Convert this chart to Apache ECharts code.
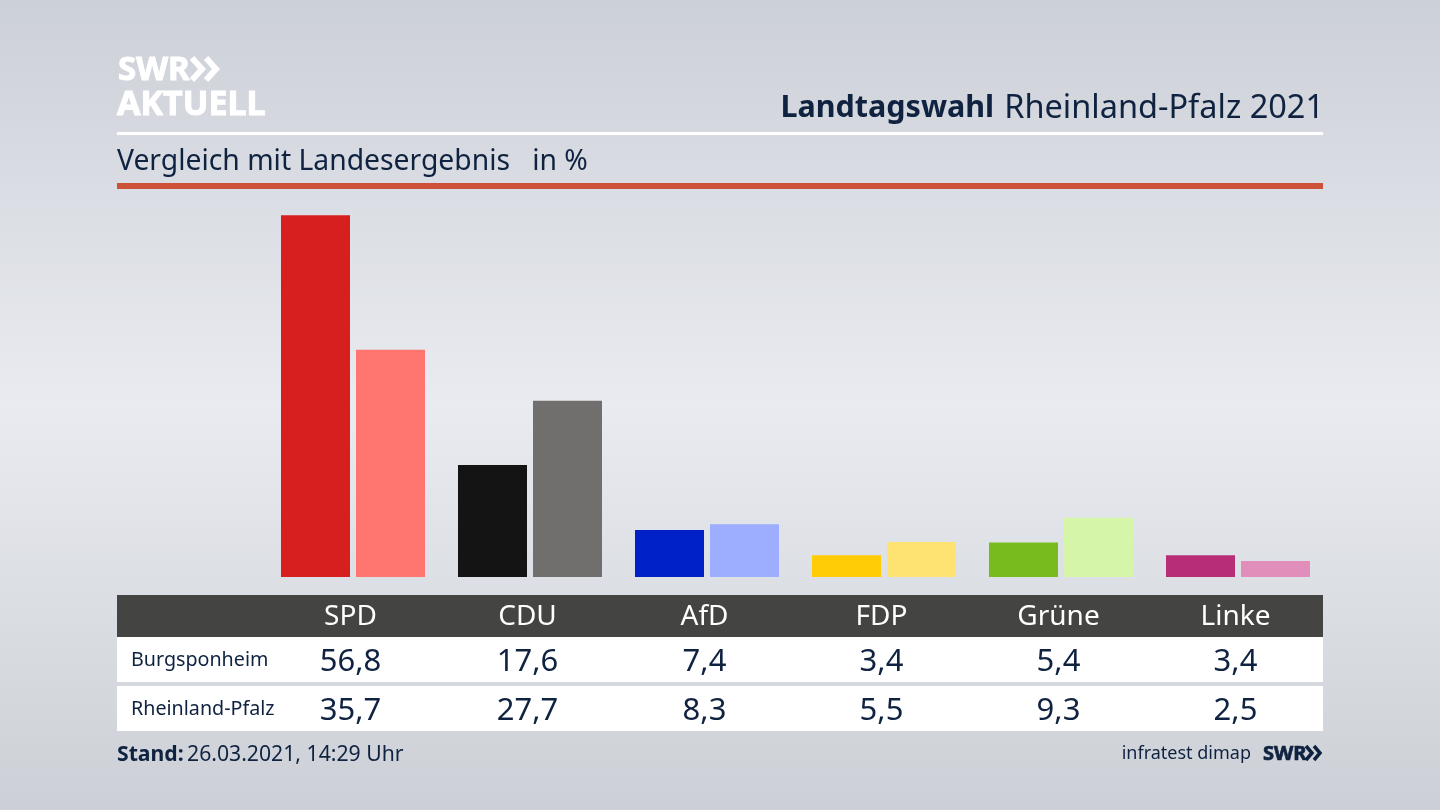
<!DOCTYPE html>
<html>
<head>
<meta charset="utf-8">
<title>Landtagswahl Rheinland-Pfalz 2021</title>
<script src="https://cdn.jsdelivr.net/npm/echarts@6/dist/echarts.min.js"></script>
<style>
html, body { margin: 0; padding: 0; }
#chartmain { width: 1440px; height: 810px; }
</style>
</head>
<body>
<div id="chartmain"></div>
<script>
var categories = ['SPD', 'CDU', 'AfD', 'FDP', 'Grüne', 'Linke'];
var localName = 'Burgsponheim';
var stateName = 'Rheinland-Pfalz';
var localValues = [56.8, 17.6, 7.4, 3.4, 5.4, 3.4];
var stateValues = [35.7, 27.7, 8.3, 5.5, 9.3, 2.5];
var localColors = ['#d81f1f', '#141414', '#0021c8', '#ffcc05', '#78bb1d', '#b82e76'];
var stateColors = ['#ff7670', '#706f6d', '#9dadff', '#ffe372', '#d5f5a8', '#e18fba'];

var FONT = '"Noto Sans", sans-serif';
var NAVY = '#0f2240';
//表格文字比柱组中心偏左
var LABEL_SHIFT = 2.5;

function fmt(v) {
    return v.toFixed(1).replace('.', ',');
}

var myChart = echarts.init(document.getElementById('chartmain'));

myChart.setOption({
    animation: false,
    backgroundColor: {
        type: 'linear', x: 0, y: 0, x2: 0, y2: 1,
        colorStops: [
            { offset: 0, color: '#ccd0d7' },
            { offset: 0.5, color: '#e9ebf0' },
            { offset: 1, color: '#ccd0d6' }
        ]
    },
    //两段字重不同的标题
    title: [{
        right: 111, top: 87,
        text: '{b|Landtagswahl}  {r|Rheinland-Pfalz 2021}',
        textStyle: {
            rich: {
                b: { fontFamily: FONT, fontSize: 30.5, fontWeight: 'bold', color: NAVY },
                r: { fontFamily: FONT, fontSize: 32.5, fontWeight: 'normal', color: NAVY }
            }
        }
    }, {
        left: 112, top: 143,
        text: 'Vergleich mit Landesergebnis   in %',
        textStyle: { fontFamily: FONT, fontSize: 28.3, fontWeight: 'normal', color: NAVY }
    }],
    grid: { left: 264.5, top: 195, width: 1062, height: 382 },
    xAxis: {
        type: 'category',
        data: categories,
        axisLine: { show: false },
        axisTick: { show: false },
        axisLabel: {
            margin: 40, verticalAlign: 'middle',
            padding: [0, LABEL_SHIFT * 2, 0, 0],
            fontFamily: FONT, fontSize: 28, color: '#ffffff'
        }
    },
    yAxis: { type: 'value', min: 0, max: 60, show: false },
    series: [{
        name: localName,
        type: 'bar',
        barWidth: 69,
        barGap: '8.7%',
        data: localValues,
        itemStyle: { color: function (p) { return localColors[p.dataIndex]; } }
    }, {
        name: stateName,
        type: 'bar',
        barWidth: 69,
        data: stateValues,
        itemStyle: { color: function (p) { return stateColors[p.dataIndex]; } }
    }]
});

//表格和页眉页脚
var elements = [
    { type: 'rect', z: -1, shape: { x: 117, y: 132, width: 1206, height: 3 }, style: { fill: '#ffffff' } },
    { type: 'rect', z: -1, shape: { x: 117, y: 183, width: 1206, height: 6 }, style: { fill: '#cd5138' } },
    { type: 'rect', z: -1, shape: { x: 117, y: 595, width: 1206, height: 42 }, style: { fill: '#444442' } },
    { type: 'rect', z: -1, shape: { x: 117, y: 637, width: 1206, height: 45 }, style: { fill: '#ffffff' } },
    { type: 'rect', z: -1, shape: { x: 117, y: 686, width: 1206, height: 45 }, style: { fill: '#ffffff' } },
    { type: 'text', x: 118, y: 71, style: { text: 'SWR', fontFamily: FONT, fontSize: 33, fontWeight: 'bold', fill: '#ffffff', stroke: '#ffffff', lineWidth: 1, verticalAlign: 'middle' } },
    { type: 'text', x: 117, y: 105, style: { text: 'AKTUELL', fontFamily: FONT, fontSize: 34, fontWeight: 'bold', fill: '#ffffff', stroke: '#ffffff', lineWidth: 1, verticalAlign: 'middle' } },
    { type: 'polyline', shape: { points: [[192, 58], [202, 69], [192, 80]] }, style: { stroke: '#ffffff', lineWidth: 6, fill: null } },
    { type: 'polyline', shape: { points: [[206, 58], [216, 69], [206, 80]] }, style: { stroke: '#ffffff', lineWidth: 6, fill: null } },
    { type: 'text', x: 131, y: 660, style: { text: localName, fontFamily: FONT, fontSize: 19.7, fill: NAVY, verticalAlign: 'middle' } },
    { type: 'text', x: 131, y: 709, style: { text: stateName, fontFamily: FONT, fontSize: 19.7, fill: NAVY, verticalAlign: 'middle' } },
    { type: 'text', x: 117, y: 755, style: { text: '{b|Stand:} {r|26.03.2021, 14:29 Uhr}', verticalAlign: 'middle',
        rich: { b: { fontFamily: FONT, fontSize: 21.2, fontWeight: 'bold', fill: NAVY }, r: { fontFamily: FONT, fontSize: 21.2, fill: NAVY } } } },
    { type: 'text', x: 1251, y: 754, style: { text: 'infratest dimap', fontFamily: FONT, fontSize: 18, fill: NAVY, align: 'right', verticalAlign: 'middle' } },
    { type: 'text', x: 1263, y: 754, style: { text: 'SWR', fontFamily: FONT, fontSize: 20, fontWeight: 'bold', fill: NAVY, stroke: NAVY, lineWidth: 0.7, verticalAlign: 'middle' } },
    { type: 'polyline', shape: { points: [[1306, 746], [1312, 753], [1306, 760]] }, style: { stroke: NAVY, lineWidth: 3.5, fill: null } },
    { type: 'polyline', shape: { points: [[1314, 746], [1320, 753], [1314, 760]] }, style: { stroke: NAVY, lineWidth: 3.5, fill: null } }
];

categories.forEach(function (c, i) {
    var cx = myChart.convertToPixel({ xAxisIndex: 0 }, c) - LABEL_SHIFT;
    elements.push({ type: 'text', x: cx, y: 662, style: { text: fmt(localValues[i]), fontFamily: FONT, fontSize: 31, fill: NAVY, align: 'center', verticalAlign: 'middle' } });
    elements.push({ type: 'text', x: cx, y: 711, style: { text: fmt(stateValues[i]), fontFamily: FONT, fontSize: 31, fill: NAVY, align: 'center', verticalAlign: 'middle' } });
});

myChart.setOption({ graphic: { elements: elements } });
</script>
</body>
</html>
